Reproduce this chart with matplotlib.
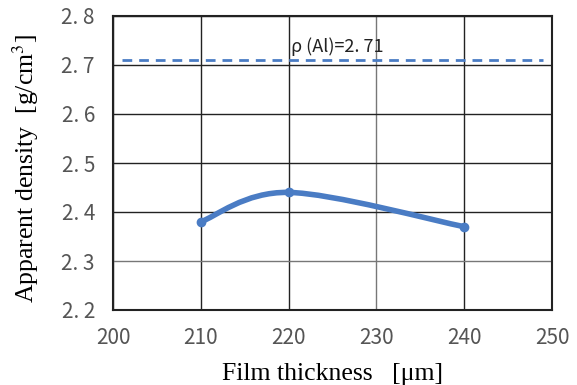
import matplotlib
matplotlib.use("Agg")
import matplotlib.pyplot as plt
from matplotlib.path import Path
from matplotlib.patches import PathPatch
import numpy as np

plt.rcParams["mathtext.fontset"] = "stix"

thickness = [210, 220, 240]
density = [2.38, 2.44, 2.37]
ref_density = 2.71
ref_label = "ρ (Al)=2. 71"
xticks = [200, 210, 220, 230, 240, 250]
yticks = [2.2, 2.3, 2.4, 2.5, 2.6, 2.7, 2.8]
ytick_labels = ["2. 2", "2. 3", "2. 4", "2. 5", "2. 6", "2. 7", "2. 8"]

blue = "#4a7cc4"

fig = plt.figure(figsize=(5.77, 3.85), dpi=100)
ax = fig.add_axes([113/577, 1-310/385, (552-113)/577, (310-16)/385])
ax.set_xlim(200, 250)
ax.set_ylim(2.2, 2.8)

# Excel-style smoothed curve through the points (cubic Bezier, Catmull-Rom tangents)
pts = np.column_stack([thickness, density]).astype(float)
verts = [tuple(pts[0])]
codes = [Path.MOVETO]
n = len(pts)
for i in range(n - 1):
    p0 = pts[i - 1] if i > 0 else pts[i]
    p1 = pts[i]
    p2 = pts[i + 1]
    p3 = pts[i + 2] if i + 2 < n else pts[i + 1]
    c1 = p1 + (p2 - p0) / 6.0
    c2 = p2 - (p3 - p1) / 6.0
    verts += [tuple(c1), tuple(c2), tuple(p2)]
    codes += [Path.CURVE4] * 3
ax.add_patch(PathPatch(Path(verts, codes), facecolor="none", edgecolor=blue,
                       lw=4, capstyle="round", zorder=3))
ax.plot(thickness, density, "o", color=blue, ms=6, zorder=4)

ax.plot([201, 249], [ref_density, ref_density], ls=(0, (3.5, 2.5)), color=blue, lw=2, zorder=3)
ax.text(220.3, ref_density + 0.008, ref_label, fontsize=13, color="#222222",
        family=["Noto Sans CJK JP", "DejaVu Sans"], va="bottom", ha="left")

ax.set_xticks(xticks)
ax.set_yticks(yticks)
ax.set_yticklabels(ytick_labels)
ax.grid(True, color="#222222", lw=1)
for gl, t in zip(ax.get_xgridlines(), xticks):
    if t == 230:
        gl.set_color("#777777")
for gl, t in zip(ax.get_ygridlines(), yticks):
    if abs(t - 2.3) < 1e-9:
        gl.set_color("#777777")
ax.tick_params(length=0, labelsize=15, labelcolor="#555555")
ax.tick_params(axis="y", pad=13)
ax.tick_params(axis="x", pad=12)
for lab in ax.get_xticklabels() + ax.get_yticklabels():
    lab.set_family(["Noto Sans CJK JP", "DejaVu Sans"])
for s in ax.spines.values():
    s.set_color("#222222")
    s.set_linewidth(1.5)

ax.set_xlabel("Film thickness   [μm]", family="Liberation Serif", fontsize=18.5, labelpad=10)
ax.set_ylabel("Apparent density  [g/cm$^3$]", family="Liberation Serif", fontsize=18.5)
ax.yaxis.set_label_coords(-0.165, 0.48)

fig.savefig("out.png", dpi=100)
